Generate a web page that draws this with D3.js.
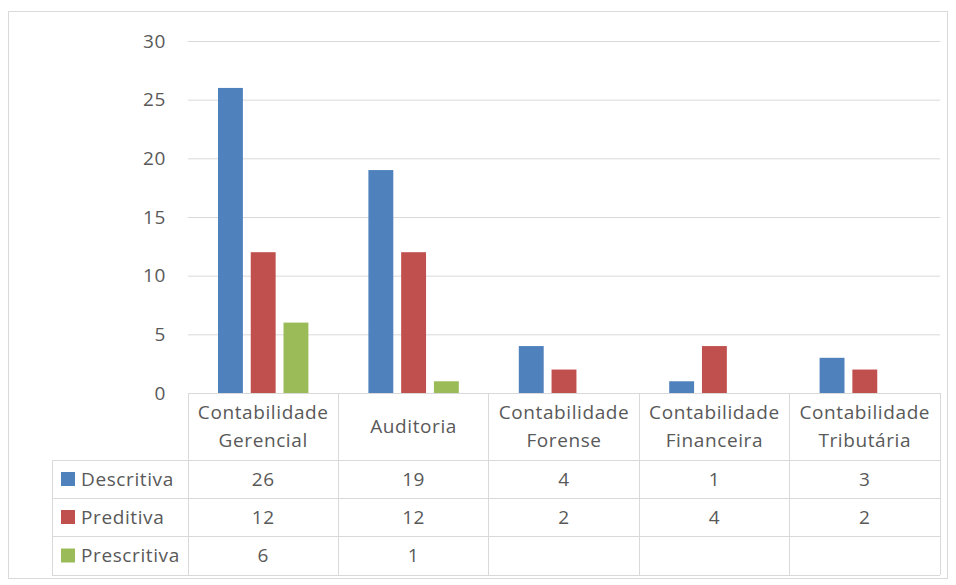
<!DOCTYPE html>
<html>
<head>
<meta charset="utf-8">
<script src="https://cdn.jsdelivr.net/npm/d3@7"></script>
<style>
  body { margin: 0; background: #fff; }
  text { font-family: "Open Sans", sans-serif; fill: #595959; letter-spacing: 0.6px; }
</style>
</head>
<body>
<div id="chart"></div>
<script>
// Data
const categories = [
  ["Contabilidade", "Gerencial"],
  ["Auditoria"],
  ["Contabilidade", "Forense"],
  ["Contabilidade", "Financeira"],
  ["Contabilidade", "Tributária"]
];
const seriesNames = ["Descritiva", "Preditiva", "Prescritiva"];
const descritiva = [26, 19, 4, 1, 3];
const preditiva = [12, 12, 2, 4, 2];
const prescritiva = [6, 1, null, null, null];
const yTicks = [0, 5, 10, 15, 20, 25, 30];
const colors = ["#4f81bd", "#c0504d", "#9bbb59"];

function draw(container) {
  const width = 956;
  const height = 585;
  const plot = ({top: 41, bottom: 393, left: 188, right: 940});
  const rowH = [460, 498, 536, 575];   // bottom edges of table rows
  const tableLeft = 52;
  const fontSize = 19;

  const series = [descritiva, preditiva, prescritiva];
  const catIds = categories.map((c, i) => i);

  const svg = d3.select(container).append("svg")
    .attr("width", width)
    .attr("height", height);

  // outer frame
  svg.append("rect")
    .attr("x", 8.5).attr("y", 11.5)
    .attr("width", 939).attr("height", 567)
    .attr("fill", "none").attr("stroke", "#d9d9d9");

  const x = d3.scaleBand()
    .domain(catIds)
    .range([plot.left, plot.right]);

  const x1 = d3.scaleBand()
    .domain(seriesNames)
    .range([30, x.bandwidth() - 30])
    .paddingInner(0.24);

  const y = d3.scaleLinear()
    .domain([0, 30])
    .range([plot.bottom, plot.top]);

  // gridlines + tick labels
  const yAxis = g => g
    .attr("transform", `translate(${plot.left},0)`)
    .call(d3.axisLeft(y)
      .tickValues(yTicks)
      .tickSize(-(plot.right - plot.left))
      .tickPadding(22))
    .call(g => g.select(".domain").remove())
    .call(g => g.selectAll(".tick line").attr("stroke", "#d9d9d9"))
    .call(g => g.selectAll(".tick text")
      .attr("fill", "#595959")
      .style("font-family", '"Open Sans", sans-serif')
      .style("font-size", fontSize + "px"));
  svg.append("g").call(yAxis);

  // bars
  const bars = [];
  series.forEach((vals, si) => {
    vals.forEach((v, ci) => {
      if (v != null) bars.push({s: seriesNames[si], si: si, c: ci, v: v});
    });
  });
  svg.append("g")
    .selectAll("rect")
    .data(bars)
    .join("rect")
      .attr("x", d => x(d.c) + x1(d.s))
      .attr("y", d => y(d.v))
      .attr("width", x1.bandwidth())
      .attr("height", d => y(0) - y(d.v))
      .attr("fill", d => colors[d.si]);

  /* ********************
   * Data table
   ********************** */
  const grid = svg.append("g")
    .attr("stroke", "#d9d9d9")
    .attr("shape-rendering", "crispEdges");

  // top line (axis)
  grid.append("line")
    .attr("x1", plot.left).attr("x2", plot.right)
    .attr("y1", plot.bottom).attr("y2", plot.bottom);
  // row lines
  rowH.forEach(r => grid.append("line")
    .attr("x1", tableLeft).attr("x2", plot.right)
    .attr("y1", r).attr("y2", r));
  // vertical lines
  catIds.concat([catIds.length]).forEach(i => {
    const xx = i < catIds.length ? x(i) : plot.right;
    grid.append("line")
      .attr("x1", xx).attr("x2", xx)
      .attr("y1", plot.bottom).attr("y2", rowH[3]);
  });
  grid.append("line")
    .attr("x1", tableLeft).attr("x2", tableLeft)
    .attr("y1", rowH[0]).attr("y2", rowH[3]);

  // header labels
  const hdr = svg.append("g")
    .style("font-size", fontSize + "px")
    .attr("text-anchor", "middle");
  categories.forEach((lines, i) => {
    const cx = x(i) + x.bandwidth() / 2;
    const cy = (plot.bottom + rowH[0]) / 2;
    const t = hdr.append("text")
      .attr("x", cx)
      .attr("y", cy - (lines.length - 1) * 14);
    lines.forEach((l, j) => {
      t.append("tspan").attr("x", cx).attr("dy", j === 0 ? "0.35em" : "28px").text(l);
    });
  });

  // value rows with legend keys
  const rowTops = [rowH[0], rowH[1], rowH[2]];
  series.forEach((vals, si) => {
    const cy = (rowTops[si] + rowH[si + 1]) / 2;
    svg.append("rect")
      .attr("x", 61).attr("y", cy - 7)
      .attr("width", 14).attr("height", 14)
      .attr("fill", colors[si]);
    svg.append("text")
      .attr("x", 81).attr("y", cy)
      .attr("dy", "0.35em")
      .style("font-size", fontSize + "px")
      .text(seriesNames[si]);
    vals.forEach((v, ci) => {
      if (v == null) return;
      svg.append("text")
        .attr("x", x(ci) + x.bandwidth() / 2)
        .attr("y", cy)
        .attr("dy", "0.35em")
        .attr("text-anchor", "middle")
        .style("font-size", fontSize + "px")
        .text(v);
    });
  });

  return svg.node();
}

draw("#chart");
</script>
</body>
</html>
